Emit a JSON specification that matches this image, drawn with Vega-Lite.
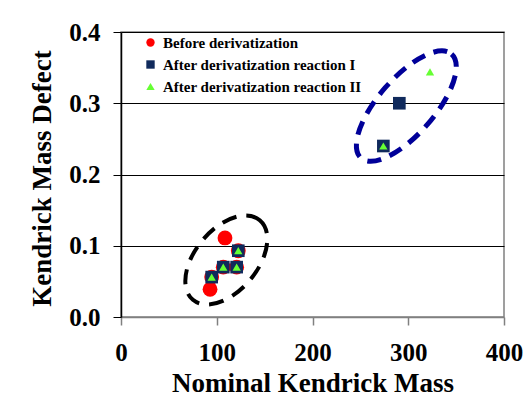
{
  "$schema": "https://vega.github.io/schema/vega-lite/v6.json",
  "width": 383,
  "height": 285,
  "autosize": "none",
  "padding": {"left": 121, "top": 32, "right": 20, "bottom": 80},
  "background": "white",
  "config": {
    "view": {"stroke": "#808080", "strokeWidth": 1.5},
    "font": "Liberation Serif",
    "legend": {
      "orient": "none",
      "legendX": 22,
      "legendY": 3,
      "padding": 0,
      "labelFont": "Liberation Serif",
      "labelFontWeight": "bold",
      "labelFontSize": 15,
      "labelColor": "black",
      "labelLimit": 0,
      "labelOffset": 5,
      "rowPadding": 6,
      "symbolSize": 70,
      "symbolStrokeWidth": 0,
      "symbolOpacity": 1
    }
  },
  "datasets": {
    "points": [
      {"series": "Before derivatization", "x": 108.6, "y": 0.111},
      {"series": "Before derivatization", "x": 122.5, "y": 0.093},
      {"series": "Before derivatization", "x": 106.8, "y": 0.070},
      {"series": "Before derivatization", "x": 120.8, "y": 0.070},
      {"series": "Before derivatization", "x": 94.7, "y": 0.056},
      {"series": "Before derivatization", "x": 93.0, "y": 0.039},
      {"series": "After derivatization reaction I", "x": 122.5, "y": 0.093},
      {"series": "After derivatization reaction I", "x": 106.8, "y": 0.070},
      {"series": "After derivatization reaction I", "x": 120.8, "y": 0.070},
      {"series": "After derivatization reaction I", "x": 94.7, "y": 0.056},
      {"series": "After derivatization reaction I", "x": 274.0, "y": 0.240},
      {"series": "After derivatization reaction I", "x": 290.7, "y": 0.300},
      {"series": "After derivatization reaction II", "x": 122.5, "y": 0.093},
      {"series": "After derivatization reaction II", "x": 106.8, "y": 0.070},
      {"series": "After derivatization reaction II", "x": 120.8, "y": 0.070},
      {"series": "After derivatization reaction II", "x": 94.7, "y": 0.056},
      {"series": "After derivatization reaction II", "x": 274.0, "y": 0.240},
      {"series": "After derivatization reaction II", "x": 322.7, "y": 0.344}
    ],
    "ellipses": [
      {"group": "before", "x": 110, "y": 0.080},
      {"group": "after", "x": 298, "y": 0.296}
    ]
  },
  "encoding": {
    "x": {
      "field": "x",
      "type": "quantitative",
      "scale": {"domain": [0, 400], "nice": false, "zero": false},
      "axis": {
        "title": "Nominal Kendrick Mass",
        "values": [0, 100, 200, 300, 400],
        "grid": false,
        "labelFont": "Liberation Serif",
        "labelFontSize": 25,
        "labelFontWeight": "bold",
        "labelColor": "black",
        "labelPadding": 15,
        "labelFlush": false,
        "labelOverlap": false,
        "labelBound": false,
        "tickSize": 8,
        "tickColor": "#808080",
        "tickWidth": 1.5,
        "domainColor": "#808080",
        "domainWidth": 1.5,
        "titleFont": "Liberation Serif",
        "titleFontSize": 27,
        "titleFontWeight": "bold",
        "titleColor": "black",
        "titleBaseline": "alphabetic",
        "titleY": 74.5
      }
    },
    "y": {
      "field": "y",
      "type": "quantitative",
      "scale": {"domain": [0, 0.4], "nice": false},
      "axis": {
        "title": "Kendrick Mass Defect",
        "values": [0, 0.1, 0.2, 0.3, 0.4],
        "format": ".1f",
        "grid": true,
        "gridColor": "black",
        "gridWidth": 1,
        "gridOpacity": {"condition": {"test": "datum.value === 0", "value": 0}, "value": 1},
        "labelFont": "Liberation Serif",
        "labelFontSize": 25,
        "labelFontWeight": "bold",
        "labelColor": "black",
        "labelPadding": 13,
        "labelOverlap": false,
        "labelBound": false,
        "labelFlush": false,
        "tickSize": 8,
        "tickColor": "black",
        "tickWidth": 1,
        "domainColor": "black",
        "domainWidth": 1.5,
        "titleFont": "Liberation Serif",
        "titleFontSize": 27,
        "titleFontWeight": "bold",
        "titleColor": "black",
        "titleAngle": 270,
        "titleAlign": "center",
        "titleBaseline": "middle",
        "titleX": -79,
        "titleY": 146
      }
    }
  },
  "layer": [
    {
      "data": {"name": "ellipses"},
      "transform": [{"filter": "datum.group === 'before'"}],
      "mark": {
        "type": "point",
        "shape": "M 1 0 C 1 0.329 0.5523 0.596 0 0.596 C -0.5523 0.596 -1 0.329 -1 0 C -1 -0.329 -0.5523 -0.596 0 -0.596 C 0.5523 -0.596 1 -0.329 1 0 Z",
        "size": 10816,
        "angle": 310,
        "filled": false,
        "stroke": "black",
        "strokeWidth": 4,
        "strokeDash": [15, 10],
        "opacity": 1
      }
    },
    {
      "data": {"name": "ellipses"},
      "transform": [{"filter": "datum.group === 'after'"}],
      "mark": {
        "type": "point",
        "shape": "M 1 0 C 1 0.224 0.5523 0.406 0 0.406 C -0.5523 0.406 -1 0.224 -1 0 C -1 -0.224 -0.5523 -0.406 0 -0.406 C 0.5523 -0.406 1 -0.224 1 0 Z",
        "size": 19044,
        "angle": 311,
        "filled": false,
        "stroke": "#000099",
        "strokeWidth": 5,
        "strokeDash": [14, 9],
        "opacity": 1
      }
    },
    {
      "data": {"name": "points"},
      "transform": [{"filter": "datum.series === 'Before derivatization'"}],
      "mark": {"type": "point", "filled": true, "size": 220, "opacity": 1},
      "encoding": {
        "color": {"field": "series", "type": "nominal", "title": null,
          "scale": {"domain": ["Before derivatization", "After derivatization reaction I", "After derivatization reaction II"], "range": ["#FF0000", "#102A5C", "#66FF33"]}},
        "shape": {"field": "series", "type": "nominal", "title": null,
          "scale": {"domain": ["Before derivatization", "After derivatization reaction I", "After derivatization reaction II"], "range": ["circle", "square", "triangle-up"]}}
      }
    },
    {
      "data": {"name": "points"},
      "transform": [{"filter": "datum.series === 'After derivatization reaction I'"}],
      "mark": {"type": "point", "filled": true, "size": 160, "opacity": 1},
      "encoding": {
        "color": {"field": "series", "type": "nominal", "title": null},
        "shape": {"field": "series", "type": "nominal", "title": null}
      }
    },
    {
      "data": {"name": "points"},
      "transform": [{"filter": "datum.series === 'After derivatization reaction II'"}],
      "mark": {"type": "point", "filled": true, "size": 70, "opacity": 1},
      "encoding": {
        "color": {"field": "series", "type": "nominal", "title": null},
        "shape": {"field": "series", "type": "nominal", "title": null}
      }
    }
  ]
}
